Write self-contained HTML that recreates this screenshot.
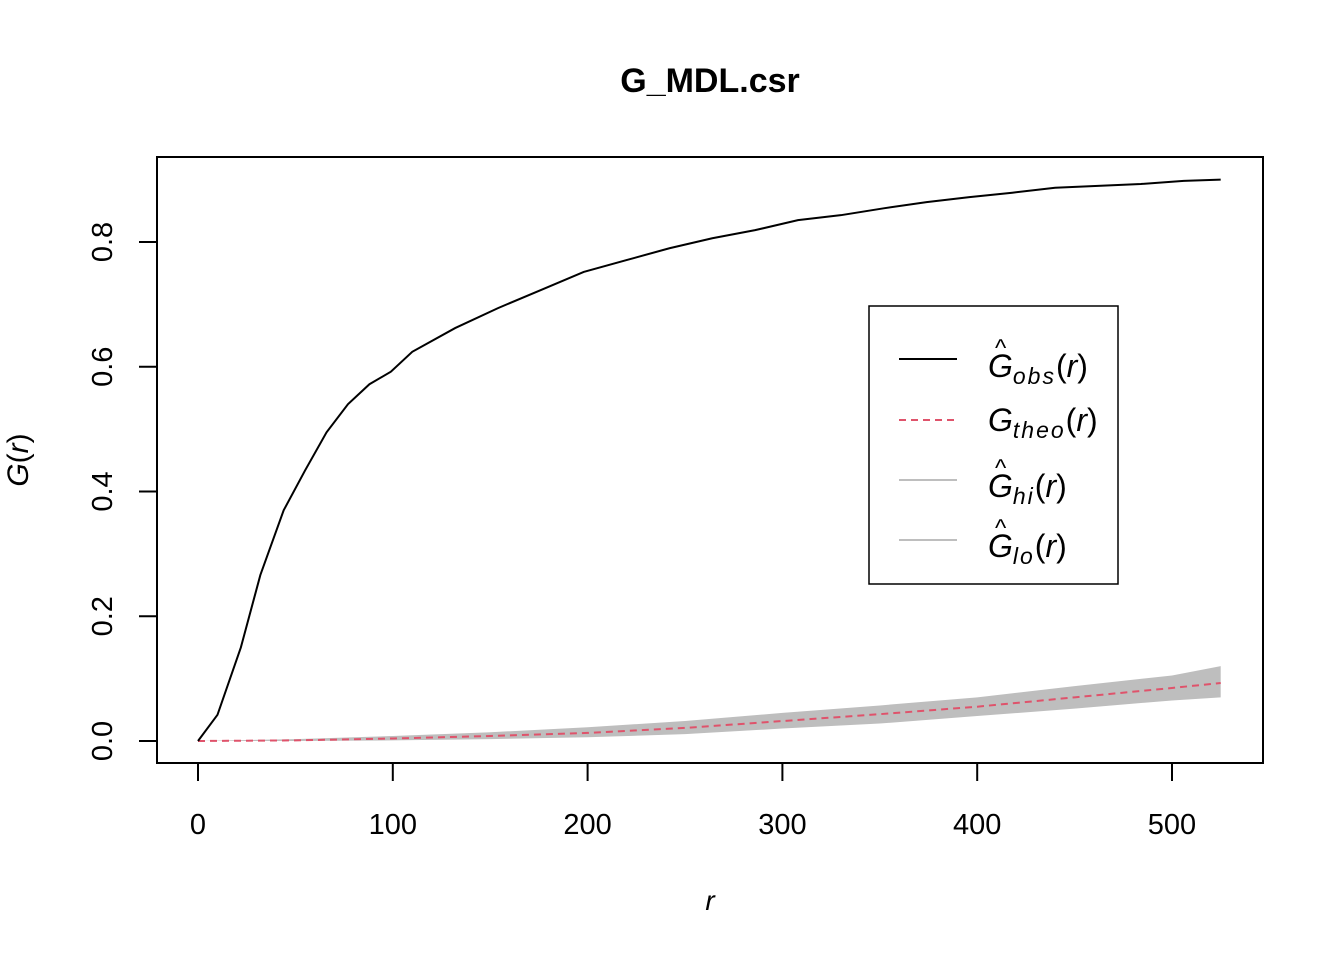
<!DOCTYPE html>
<html><head><meta charset="utf-8"><style>body{margin:0;background:#fff}svg text{font-family:"Liberation Sans",sans-serif}</style></head>
<body>
<svg width="1344" height="960" xmlns="http://www.w3.org/2000/svg">
<rect width="1344" height="960" fill="#fff"/>
<text x="710" y="92" font-size="34" font-weight="bold" text-anchor="middle">G_MDL.csr</text>
<g id="plot"></g>
<rect x="157" y="157" width="1106" height="606" fill="none" stroke="#000" stroke-width="2"/>
<text x="710" y="910" font-size="28" font-style="italic" text-anchor="middle">r</text>
<text transform="translate(28,460) rotate(-90)" font-size="30" text-anchor="middle"><tspan font-style="italic">G</tspan>(<tspan font-style="italic">r</tspan>)</text>
<g>
<rect x="869" y="306" width="249" height="278" fill="#fff" stroke="#000" stroke-width="1.5"/>
<line x1="899" x2="957" y1="359" y2="359" stroke="#000" stroke-width="2"/>
<line x1="899" x2="957" y1="420" y2="420" stroke="#DF536B" stroke-width="2" stroke-dasharray="7,5"/>
<line x1="899" x2="957" y1="480" y2="480" stroke="#BEBEBE" stroke-width="2"/>
<line x1="899" x2="957" y1="540" y2="540" stroke="#BEBEBE" stroke-width="2"/>
<g font-size="32">
<text x="988" y="377"><tspan font-style="italic">G</tspan><tspan font-size="23" font-style="italic" dy="7" letter-spacing="2">obs</tspan><tspan dy="-7">(</tspan><tspan font-style="italic">r</tspan>)</text>
<text x="995" y="356" font-size="24">^</text>
<text x="988" y="431"><tspan font-style="italic">G</tspan><tspan font-size="23" font-style="italic" dy="7" letter-spacing="2">theo</tspan><tspan dy="-7">(</tspan><tspan font-style="italic">r</tspan>)</text>
<text x="988" y="497"><tspan font-style="italic">G</tspan><tspan font-size="23" font-style="italic" dy="7" letter-spacing="2">hi</tspan><tspan dy="-7">(</tspan><tspan font-style="italic">r</tspan>)</text>
<text x="995" y="476" font-size="24">^</text>
<text x="988" y="557"><tspan font-style="italic">G</tspan><tspan font-size="23" font-style="italic" dy="7" letter-spacing="2">lo</tspan><tspan dy="-7">(</tspan><tspan font-style="italic">r</tspan>)</text>
<text x="995" y="536" font-size="24">^</text>
</g></g>
</svg>
<script>
const obsR=[0,10,22,32,44,55,66,77,88,99,110,132,154,176,198,220,242,264,286,308,330,352,374,396,418,440,462,484,506,525];
const obsG=[0,0.042,0.15,0.266,0.37,0.434,0.495,0.54,0.572,0.592,0.624,0.662,0.694,0.723,0.752,0.771,0.79,0.806,0.819,0.835,0.843,0.854,0.864,0.872,0.879,0.887,0.89,0.893,0.898,0.9];
const envR=[0,50,100,150,200,250,300,350,400,450,500,525];
const theoG=[0,0.001,0.004,0.008,0.013,0.021,0.032,0.043,0.055,0.07,0.085,0.093];
const hiG=[0,0.003,0.008,0.014,0.022,0.032,0.045,0.057,0.07,0.088,0.105,0.12];
const loG=[0,0,0.001,0.003,0.006,0.011,0.02,0.028,0.04,0.052,0.065,0.07];
const xTicks=[0,100,200,300,400,500];
const yTicks=[0,0.2,0.4,0.6,0.8];
const yLabels=["0.0","0.2","0.4","0.6","0.8"];
const sx=r=>198+r*1.948, sy=g=>741-g*623.75;
const NS="http://www.w3.org/2000/svg", P=document.getElementById('plot');
function mk(t,a){const e=document.createElementNS(NS,t);for(const k in a)e.setAttribute(k,a[k]);P.appendChild(e);return e;}
let d=envR.map((r,i)=>(i?'L':'M')+sx(r)+','+sy(hiG[i])).join('')+envR.slice().reverse().map((r,i)=>'L'+sx(r)+','+sy(loG[envR.length-1-i])).join('')+'Z';
let e=mk('path',{d:d,fill:'#BEBEBE',stroke:'none'});


e=mk('polyline',{points:envR.map((r,i)=>sx(r)+','+sy(theoG[i])).join(' '),fill:'none',stroke:'#DF536B','stroke-width':2,'stroke-dasharray':'7,5'});


e=mk('polyline',{points:obsR.map((r,i)=>sx(r)+','+sy(obsG[i])).join(' '),fill:'none',stroke:'#000','stroke-width':2});


mk('line',{x1:sx(0),x2:sx(500),y1:763,y2:763,stroke:'#000','stroke-width':2});
xTicks.forEach(t=>{mk('line',{x1:sx(t),x2:sx(t),y1:763,y2:781,stroke:'#000','stroke-width':2});
 const tx=mk('text',{x:sx(t),y:834,'font-size':29,'text-anchor':'middle'});tx.textContent=t;
 
 });
yTicks.forEach((t,i)=>{mk('line',{x1:139,x2:157,y1:sy(t),y2:sy(t),stroke:'#000','stroke-width':2});
 const tx=mk('text',{transform:`translate(112,${sy(t)}) rotate(-90)`,'font-size':29,'text-anchor':'middle'});tx.textContent=yLabels[i];
 
 });
mk('line',{x1:157,x2:157,y1:sy(0),y2:sy(0.8),stroke:'#000','stroke-width':2});
</script>
</body></html>
